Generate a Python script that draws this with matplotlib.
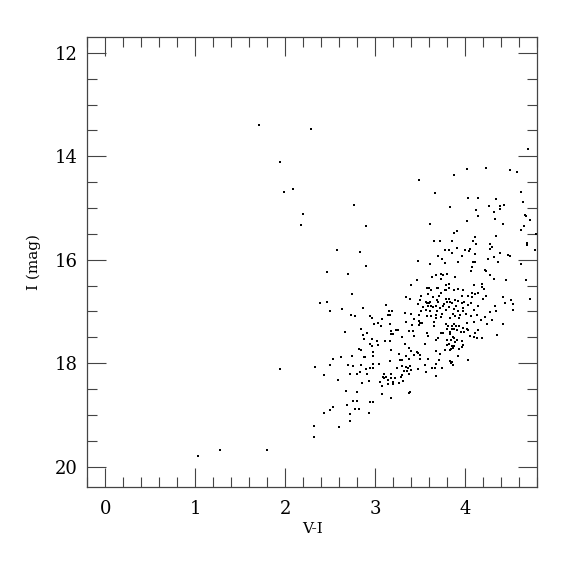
import matplotlib
matplotlib.use("Agg")
import matplotlib.pyplot as plt
from matplotlib.ticker import MultipleLocator

### colour-magnitude data (V-I, I)
# sparse bright / blue stars
vi_sparse = [1.71, 2.29, 1.94, 2.09, 1.99, 2.20, 2.18, 3.49, 3.66, 2.76, 3.83, 2.90, 3.61,
             3.65, 3.72, 2.46, 2.39, 2.46, 1.94, 2.33, 2.43, 1.03, 1.28, 1.80]
i_sparse = [13.39, 13.47, 14.11, 14.64, 14.70, 15.11, 15.32, 14.45, 14.71, 14.94, 14.98, 15.35, 15.31,
            15.63, 15.63, 16.24, 16.83, 16.82, 18.11, 18.07, 18.23, 19.79, 19.67, 19.67]

# upper red part
vi_top = [4.70, 4.23, 4.02, 4.50, 4.58, 3.87, 4.62, 4.03, 4.14, 4.34, 4.64, 4.26, 4.39, 4.43,
          4.39, 4.12, 4.32, 4.14, 4.66, 4.67, 4.33, 4.02, 4.72, 4.42, 4.65, 4.62, 3.91, 3.87,
          4.34, 4.79, 4.11, 3.85, 4.09, 4.12, 4.27, 4.69, 4.69]
i_top = [13.86, 14.23, 14.25, 14.26, 14.31, 14.36, 14.69, 14.81, 14.81, 14.83, 14.88, 14.96, 14.96, 14.95,
         15.02, 15.04, 15.08, 15.16, 15.14, 15.16, 15.21, 15.25, 15.23, 15.30, 15.35, 15.43, 15.45, 15.48,
         15.54, 15.50, 15.56, 15.63, 15.63, 15.70, 15.70, 15.67, 15.71]

# faint tail of the branch
vi_tail = [3.17, 2.75, 2.80, 2.94, 2.97, 2.69, 2.53, 2.50, 2.77, 2.82, 2.43, 2.72, 2.93, 2.72,
           2.32, 2.60, 2.32]
i_tail = [18.67, 18.74, 18.73, 18.76, 18.76, 18.81, 18.84, 18.90, 18.89, 18.89, 18.96, 18.98, 18.97, 19.11,
          19.21, 19.24, 19.42]

# middle of the branch, bluer side
vi_mid = [2.57, 2.83, 2.90, 2.70, 3.47, 3.61, 3.63, 3.46, 3.40, 2.74, 3.57, 3.60, 3.62, 3.59,
          3.51, 3.34, 3.39, 3.50, 3.64, 3.56, 3.58, 3.60, 3.61, 3.47, 3.53, 3.59, 3.62, 3.64,
          3.12, 2.86, 2.63, 3.56, 3.51, 3.61, 3.15, 3.19, 2.50, 2.73, 2.77, 3.14, 3.16, 2.94,
          2.96, 3.33, 3.40, 3.49, 3.57, 3.62, 3.07, 3.43, 3.34, 3.49, 3.65, 2.99, 3.03, 3.16,
          3.41, 3.50, 3.52, 3.65]
i_mid = [15.81, 15.86, 16.13, 16.27, 16.03, 16.09, 16.33, 16.40, 16.48, 16.66, 16.55, 16.55, 16.58, 16.66,
         16.70, 16.73, 16.75, 16.77, 16.73, 16.81, 16.84, 16.84, 16.82, 16.86, 16.91, 16.89, 16.89, 16.91,
         16.88, 16.93, 16.95, 16.98, 16.99, 16.99, 17.00, 16.99, 17.00, 17.06, 17.09, 17.07, 17.06, 17.09,
         17.12, 17.03, 17.04, 17.06, 17.09, 17.09, 17.15, 17.15, 17.20, 17.18, 17.20, 17.24, 17.22, 17.25,
         17.26, 17.23, 17.22, 17.28]

# lower branch
vi_low = [3.06, 2.66, 2.84, 3.17, 3.23, 3.25, 3.18, 3.20, 3.37, 3.42, 3.49, 3.57, 3.59, 2.86,
          2.91, 2.88, 2.96, 3.02, 3.11, 3.16, 3.30, 3.43, 3.55, 2.94, 2.96, 3.03, 3.33, 3.37,
          2.82, 2.84, 2.97, 3.17, 3.40, 3.46, 3.47, 3.50, 3.26, 3.34, 3.43, 2.89, 2.87, 2.74,
          2.62, 2.53, 2.97, 3.16, 3.27, 3.30, 3.38, 3.50, 3.59, 2.50, 2.70, 2.75, 2.84, 2.90,
          2.94, 2.98, 2.97, 3.04, 3.24, 3.30, 3.34, 3.36, 3.39, 3.32, 3.35, 3.40, 3.48, 3.55,
          3.63, 3.30, 3.37, 3.56, 2.72, 2.80, 2.83, 2.91, 3.10, 3.09, 3.18, 3.17, 3.10, 3.12,
          3.14, 3.22, 3.29, 3.20, 3.20, 3.05, 3.08, 3.14, 3.26, 3.31, 2.59, 2.85, 2.93, 2.68,
          2.80, 3.07, 3.39, 3.37]
i_low = [17.28, 17.40, 17.33, 17.38, 17.35, 17.35, 17.44, 17.44, 17.37, 17.37, 17.27, 17.42, 17.47, 17.46,
         17.42, 17.53, 17.53, 17.57, 17.58, 17.58, 17.49, 17.47, 17.62, 17.63, 17.66, 17.65, 17.62, 17.70,
         17.73, 17.75, 17.78, 17.75, 17.76, 17.78, 17.80, 17.85, 17.83, 17.87, 17.85, 17.88, 17.89, 17.87,
         17.88, 17.91, 17.86, 17.96, 17.93, 17.94, 17.91, 17.92, 17.92, 18.04, 18.03, 18.06, 18.03, 18.11,
         18.10, 18.10, 18.01, 18.01, 18.09, 18.05, 18.07, 18.10, 18.06, 18.15, 18.16, 18.13, 18.11, 18.03,
         18.09, 18.22, 18.21, 18.18, 18.21, 18.20, 18.18, 18.21, 18.20, 18.27, 18.21, 18.29, 18.29, 18.27,
         18.33, 18.29, 18.27, 18.36, 18.41, 18.36, 18.45, 18.41, 18.39, 18.35, 18.33, 18.39, 18.34, 18.53,
         18.56, 18.60, 18.55, 18.57]

# red clump region, upper half
vi_red = [3.77, 3.82, 3.85, 3.91, 4.00, 4.05, 4.04, 4.11, 4.27, 4.30, 4.32, 4.39, 4.48, 4.50,
          4.77, 3.70, 3.96, 3.74, 4.25, 3.92, 4.09, 4.11, 4.36, 3.77, 4.62, 4.07, 4.06, 4.22,
          4.23, 3.67, 3.73, 3.75, 3.80, 4.28, 3.89, 4.32, 3.73, 4.45, 4.68, 3.82, 3.79, 4.19,
          4.10, 4.19, 3.69, 3.70, 3.82, 4.21, 3.77, 3.79, 3.87, 3.92, 3.98, 4.08, 4.11, 4.14,
          3.73, 4.03, 3.71, 4.23, 4.42, 4.51, 4.72, 3.82, 3.79, 3.89, 3.96, 4.07, 3.69, 4.20,
          3.70, 3.80, 3.83, 3.92, 3.99, 3.76, 3.85, 3.96, 4.06, 4.44, 4.53, 3.67, 3.75, 3.82,
          3.90, 4.03, 4.14, 4.33, 3.72, 3.87, 3.97, 3.79, 3.92, 4.10, 3.69, 3.98, 4.34, 4.53,
          3.74, 3.86, 3.68, 3.89, 3.94, 4.01, 4.13, 4.28, 4.06, 3.73, 3.67, 4.22, 3.83, 3.93,
          4.18, 4.30, 3.79, 3.87, 4.02, 4.10, 4.24, 4.42]
i_red = [15.82, 15.81, 15.87, 15.77, 15.81, 15.80, 15.83, 15.88, 15.79, 15.75, 15.94, 15.87, 15.90, 15.93,
         15.81, 15.92, 15.93, 15.98, 15.99, 16.04, 16.04, 16.05, 16.05, 16.07, 16.09, 16.14, 16.22, 16.19,
         16.22, 16.29, 16.28, 16.29, 16.28, 16.30, 16.34, 16.37, 16.38, 16.40, 16.39, 16.46, 16.48, 16.46,
         16.49, 16.52, 16.54, 16.55, 16.54, 16.57, 16.59, 16.58, 16.58, 16.57, 16.59, 16.65, 16.67, 16.65,
         16.65, 16.70, 16.70, 16.70, 16.72, 16.78, 16.76, 16.75, 16.75, 16.77, 16.70, 16.73, 16.77, 16.76,
         16.82, 16.81, 16.81, 16.80, 16.81, 16.85, 16.84, 16.84, 16.84, 16.84, 16.86, 16.89, 16.89, 16.91,
         16.89, 16.88, 16.89, 16.89, 16.94, 16.95, 16.94, 16.98, 16.99, 16.98, 17.00, 17.00, 17.00, 16.97,
         17.04, 17.04, 17.06, 17.08, 17.07, 17.05, 17.07, 17.01, 17.09, 17.11, 17.13, 17.11, 17.13, 17.12,
         17.16, 17.17, 17.24, 17.24, 17.23, 17.21, 17.24, 17.25]

# red clump region, lower half
vi_clump = [3.81, 3.85, 3.90, 3.93, 3.80, 3.85, 3.88, 3.91, 3.98, 4.02, 4.03, 4.14, 3.95, 3.99,
            3.83, 3.83, 3.73, 3.75, 4.11, 4.05, 4.10, 4.13, 4.19, 4.35, 3.70, 3.68, 3.86, 3.88,
            3.91, 3.89, 3.84, 3.80, 3.96, 3.98, 3.82, 3.80, 3.85, 3.86, 3.84, 3.88, 3.93, 3.96,
            3.78, 3.83, 3.67, 3.72, 3.92, 3.71, 3.83, 3.85, 3.84, 3.86, 4.03, 3.67, 3.66, 3.74,
            3.67]
i_clump = [17.28, 17.28, 17.28, 17.29, 17.33, 17.33, 17.34, 17.35, 17.32, 17.33, 17.36, 17.35, 17.39, 17.40,
           17.39, 17.44, 17.42, 17.41, 17.42, 17.47, 17.50, 17.52, 17.51, 17.45, 17.52, 17.56, 17.50, 17.52,
           17.56, 17.59, 17.55, 17.56, 17.58, 17.64, 17.62, 17.65, 17.66, 17.71, 17.72, 17.67, 17.73, 17.69,
           17.74, 17.75, 17.77, 17.82, 17.86, 17.93, 17.95, 17.97, 18.00, 18.04, 17.94, 18.02, 18.10, 18.09,
           18.25]

vi = vi_sparse + vi_top + vi_tail + vi_mid + vi_low + vi_red + vi_clump
imag = i_sparse + i_top + i_tail + i_mid + i_low + i_red + i_clump

### figure
plt.rcParams['font.family'] = ['DejaVu Serif']
fig = plt.figure(figsize=(5.75, 5.75), dpi=100)
ax = fig.add_axes([0.1518, 0.1525, 0.7826, 0.7826])

ax.plot(vi, imag, linestyle='none', marker='s', markersize=1.8, color='black', markeredgewidth=0)

ax.set_xlim(-0.2, 4.8)
ax.set_ylim(20.4, 11.7)

ax.xaxis.set_major_locator(MultipleLocator(1))
ax.xaxis.set_minor_locator(MultipleLocator(0.2))
ax.yaxis.set_major_locator(MultipleLocator(2))
ax.yaxis.set_minor_locator(MultipleLocator(0.5))

frame_col = '#444444'
for sp in ax.spines.values():
    sp.set_color(frame_col)
    sp.set_linewidth(0.9)

ax.tick_params(which='both', direction='in', top=True, right=True, color=frame_col, width=0.8)
ax.tick_params(which='major', length=13.5, labelsize=13)
ax.tick_params(which='minor', length=7)
ax.tick_params(axis='x', which='major', pad=9)
ax.tick_params(axis='y', which='major', pad=7)

ax.set_xlabel('V-I', fontsize=11, labelpad=3)
ax.set_ylabel('I (mag)', fontsize=11, labelpad=10)

fig.savefig('out.png', dpi=100)
